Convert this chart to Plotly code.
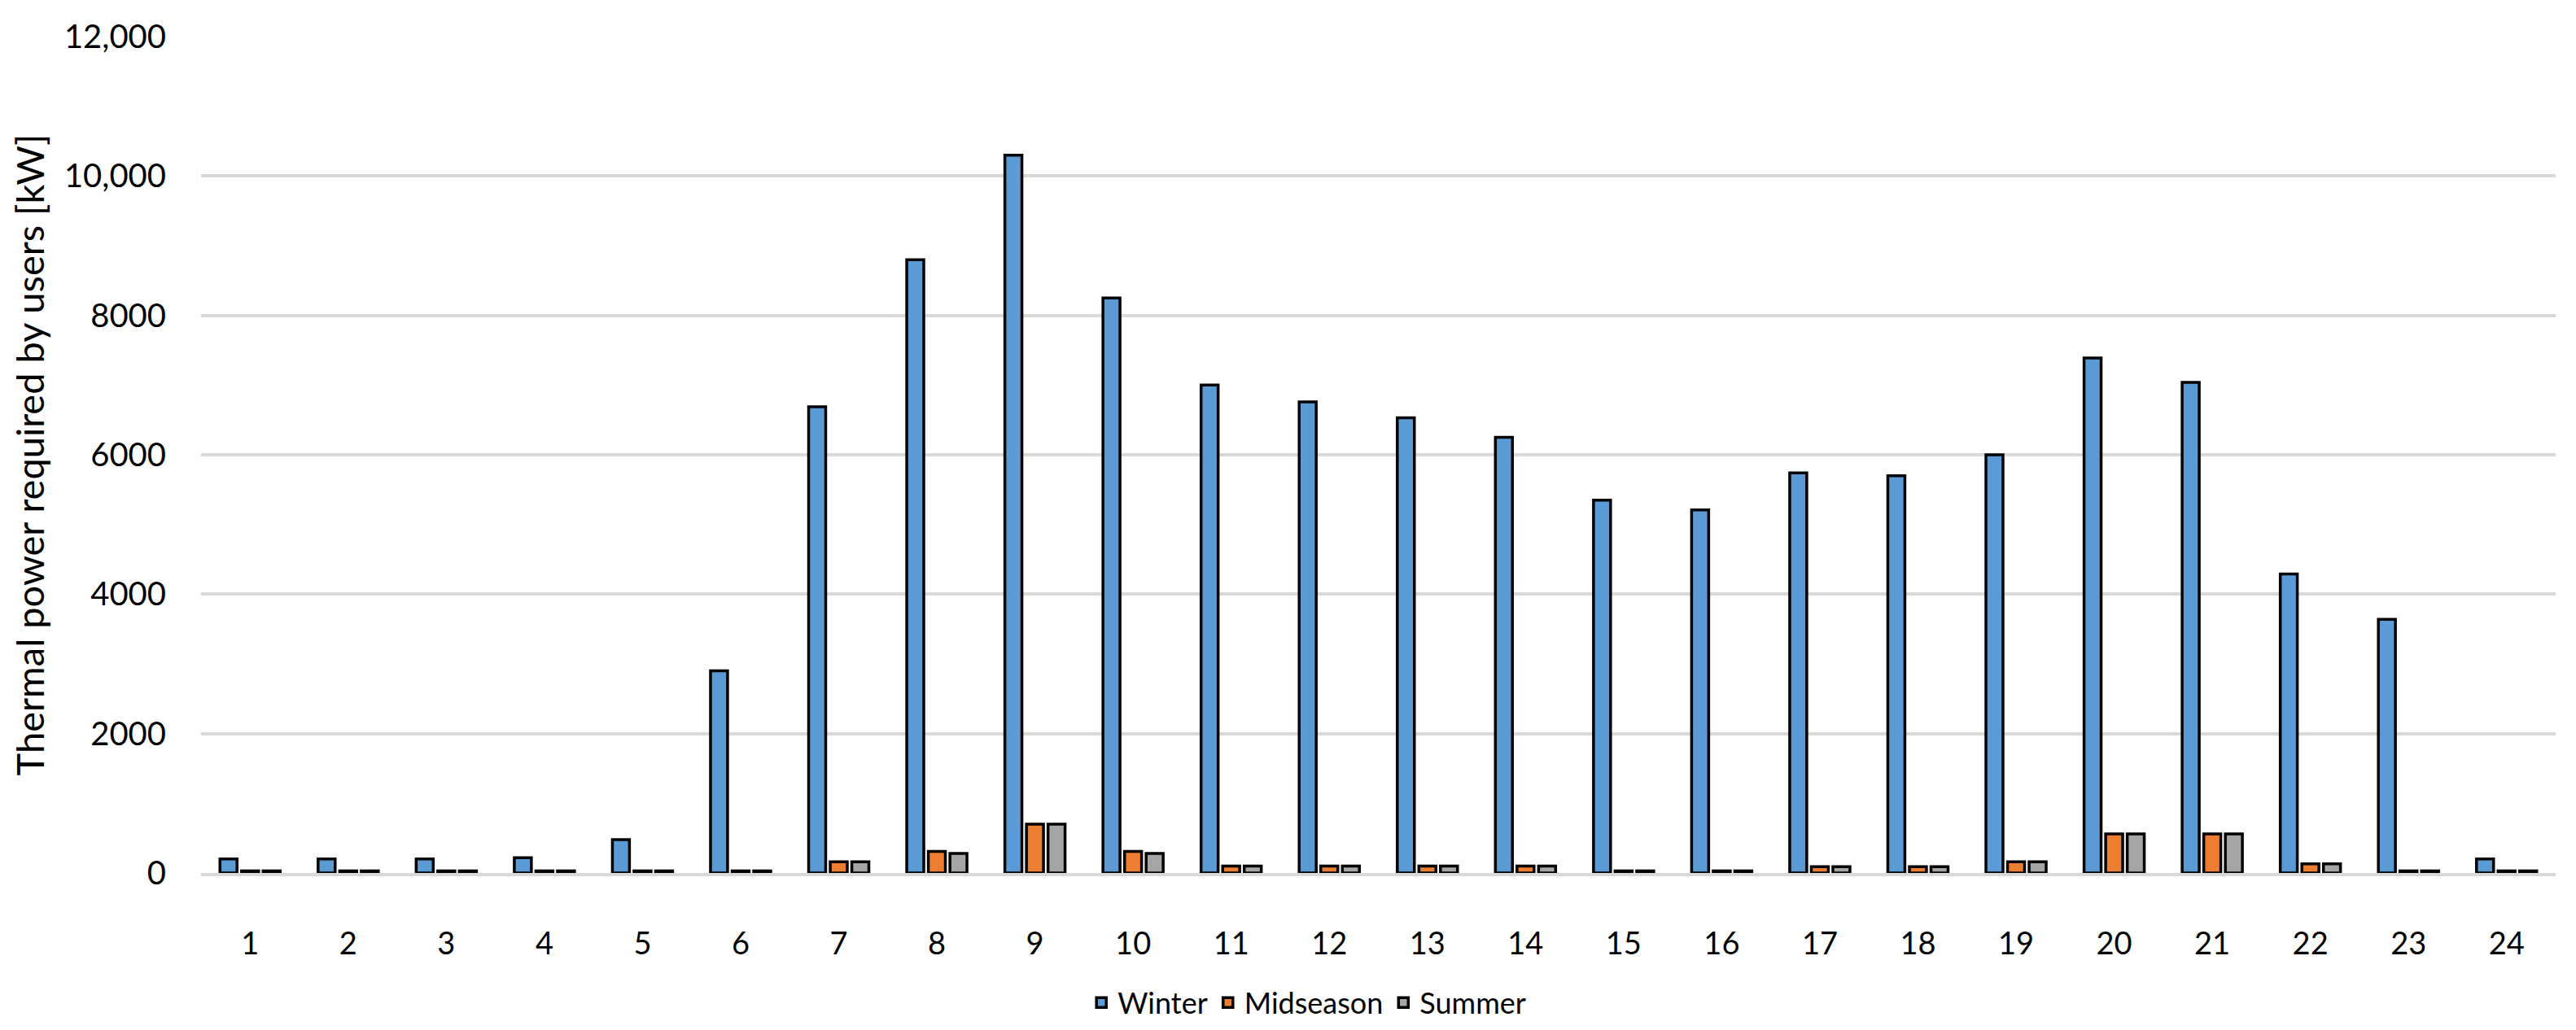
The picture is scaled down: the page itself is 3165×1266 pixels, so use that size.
import plotly.graph_objects as go

hours = [str(h) for h in range(1, 25)]
winter = [200, 200, 200, 220, 480, 2900, 6690, 8800, 10300, 8250, 7000, 6760,
          6530, 6250, 5350, 5210, 5740, 5700, 6000, 7390, 7040, 4290, 3640, 200]
midseason = [30, 30, 30, 30, 30, 30, 160, 310, 700, 310, 100, 100,
             100, 100, 30, 30, 90, 90, 160, 560, 560, 130, 30, 30]
summer = [30, 30, 30, 30, 30, 30, 160, 280, 700, 280, 100, 100,
          100, 100, 30, 30, 90, 90, 160, 560, 560, 130, 30, 30]

ytick_vals = [0, 2000, 4000, 6000, 8000, 10000, 12000]
ytick_text = ["0", "2000", "4000", "6000", "8000", "10,000", "12,000"]

series = [("Winter", winter, "#5B9BD5"),
          ("Midseason", midseason, "#ED7D31"),
          ("Summer", summer, "#A5A5A5")]

FONT = "Lato"

fig = go.Figure()
for name, vals, color in series:
    fig.add_trace(go.Bar(
        x=hours, y=vals, name=name,
        marker=dict(color=color, line=dict(color="black", width=3.5)),
    ))

fig.update_layout(
    width=3165, height=1266,
    barmode="group", bargap=0.34, bargroupgap=0.21,
    plot_bgcolor="white", paper_bgcolor="white",
    margin=dict(l=224, r=33, t=32, b=186),
    font=dict(family=FONT, size=38, color="black"),
    showlegend=True,
    legend=dict(orientation="h", x=0.47, y=-0.155, xanchor="center", yanchor="middle",
                font=dict(family=FONT, size=36, color="black"), traceorder="normal"),
)
fig.update_xaxes(
    type="category", showgrid=False, showline=True, linecolor="#D9D9D9", linewidth=4,
    layer="above traces", ticks="", ticklabelstandoff=50,
    tickfont=dict(family=FONT, size=38, color="black"),
)
fig.update_yaxes(
    range=[0, 12000], tickvals=ytick_vals, ticktext=ytick_text,
    showgrid=True, gridcolor="#D9D9D9", gridwidth=4, zeroline=False, showline=False,
    ticks="", ticklabelstandoff=42,
    tickfont=dict(family=FONT, size=40, color="black"),
    title=dict(text="Thermal power required by users [kW]", standoff=26,
               font=dict(family=FONT, size=47, color="black")),
)

fig.write_html("out.html")
